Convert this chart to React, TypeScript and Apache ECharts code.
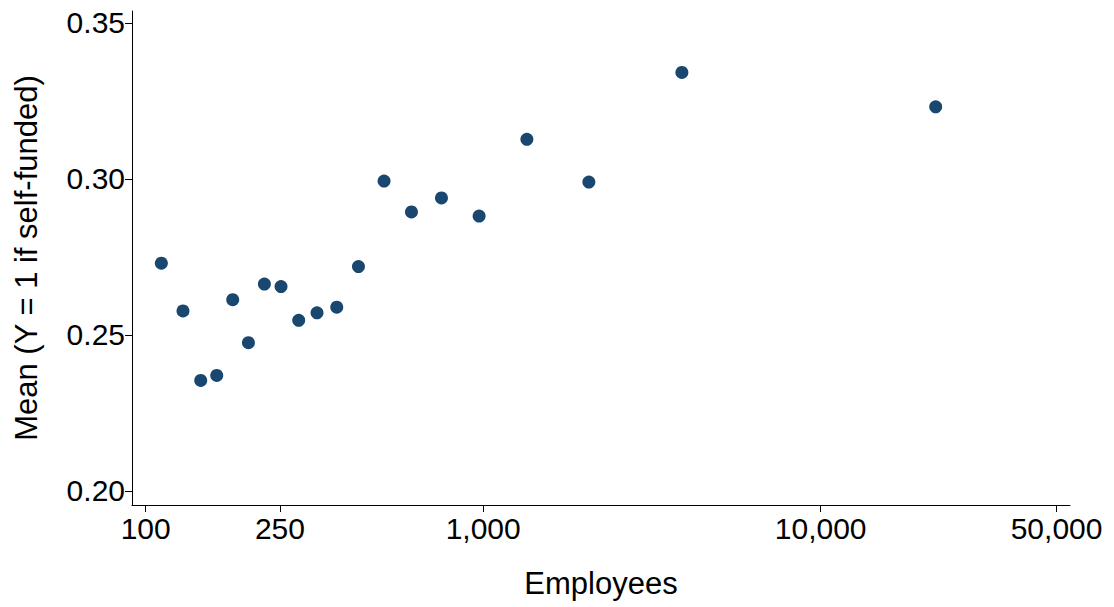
import React, { useEffect, useRef } from "react";
import * as echarts from "echarts";

// Binned means: firm size (employees) vs share self-funded
const employees = [
  111.3, 129.0, 145.6, 162.4, 181.1, 201.6, 224.8, 251.8, 284.1, 321.9,
  368.3, 427.1, 508.6, 613.1, 752.4, 972.7, 1347.5, 2057, 3880, 21920,
];
const meanSelfFunded = [
  0.273, 0.2577, 0.2354, 0.237, 0.2613, 0.2475, 0.2663, 0.2655, 0.2547, 0.2571,
  0.2589, 0.2719, 0.2993, 0.2894, 0.2939, 0.2881, 0.3127, 0.299, 0.3341, 0.3231,
];
const xTicks = [100, 250, 1000, 10000, 50000];
const yTicks = [0.2, 0.25, 0.3, 0.35];

const FONT = "'Liberation Sans', Arial, Helvetica, sans-serif";
const INK = "#000000";

export default function App() {
  const ref = useRef<HTMLDivElement>(null);

  useEffect(() => {
    if (!ref.current) return;
    const chart = echarts.init(ref.current, undefined, { renderer: "svg" });
    chart.setOption({
      animation: false,
      backgroundColor: "#ffffff",
      grid: { left: 132, right: 44, top: 11, bottom: 102, containLabel: false },
      xAxis: {
        type: "log",
        logBase: 10,
        min: 91.1,
        max: 54800,
        name: "Employees",
        nameLocation: "middle",
        nameGap: 63,
        nameTextStyle: { fontFamily: FONT, fontSize: 31, color: INK },
        axisLine: { show: true, onZero: false, lineStyle: { color: INK, width: 1 } },
        axisTick: { show: true, length: 7, lineStyle: { color: INK }, customValues: xTicks },
        axisLabel: {
          fontFamily: FONT,
          fontSize: 30,
          color: INK,
          margin: 8,
          customValues: xTicks,
          formatter: (v: number) => Math.round(v).toLocaleString("en-US"),
        },
        splitLine: { show: false },
        minorTick: { show: false },
      },
      yAxis: {
        type: "value",
        min: 0.1955,
        max: 0.3538,
        name: "Mean (Y = 1 if self-funded)",
        nameLocation: "middle",
        nameGap: 90,
        nameTextStyle: { fontFamily: FONT, fontSize: 31, color: INK },
        axisLine: { show: true, onZero: false, lineStyle: { color: INK, width: 1 } },
        axisTick: { show: true, length: 7, lineStyle: { color: INK }, customValues: yTicks },
        axisLabel: {
          fontFamily: FONT,
          fontSize: 30,
          color: INK,
          margin: 7,
          customValues: yTicks,
          formatter: (v: number) => v.toFixed(2),
        },
        splitLine: { show: false },
      },
      series: [
        {
          type: "scatter",
          symbol: "circle",
          symbolSize: 13,
          itemStyle: { color: "#1a476f", opacity: 1 },
          data: employees.map((e, i) => [e, meanSelfFunded[i]]),
        },
      ],
    });
    return () => chart.dispose();
  }, []);

  return (
    <div
      ref={ref}
      style={{ position: "fixed", left: 0, top: 0, width: 1114, height: 607 }}
    />
  );
}
